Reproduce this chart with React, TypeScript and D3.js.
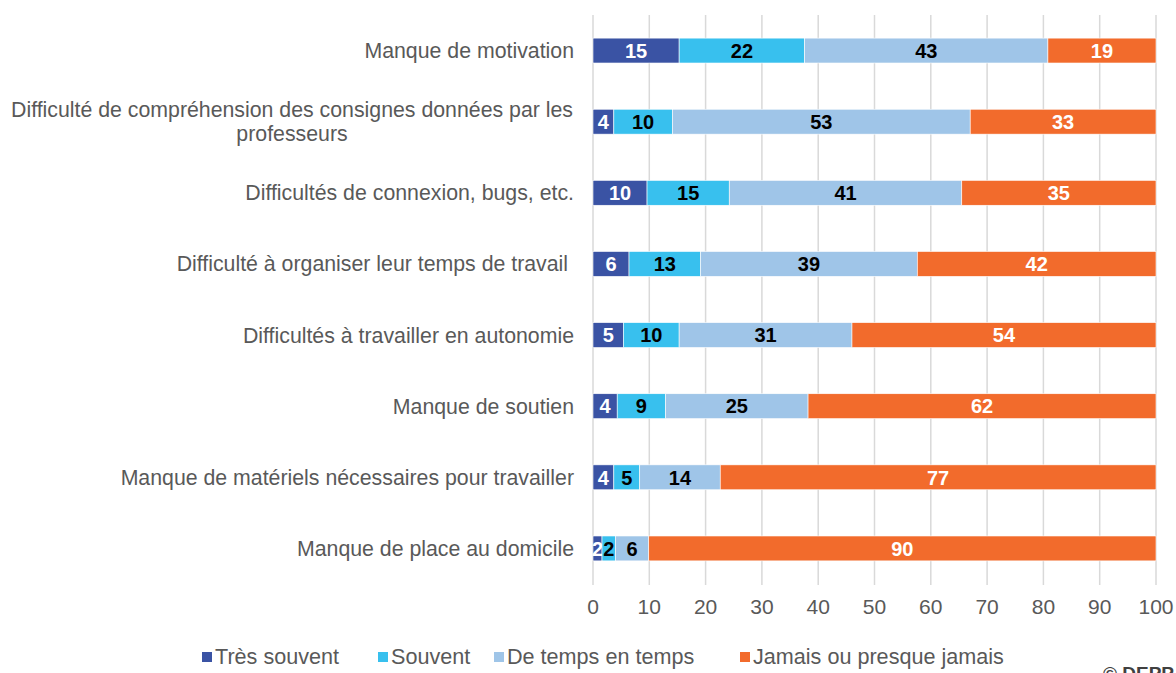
import React from "react";
import * as d3 from "d3";

const categories: string[][] = [
  ["Manque de motivation"],
  ["Difficulté de compréhension des consignes données par les", "professeurs"],
  ["Difficultés de connexion, bugs, etc."],
  ["Difficulté à organiser leur temps de travail "],
  ["Difficultés à travailler en autonomie"],
  ["Manque de soutien"],
  ["Manque de matériels nécessaires pour travailler"],
  ["Manque de place au domicile"],
];

const tresSouvent = [15.3, 3.7, 9.6, 6.4, 5.4, 4.3, 3.7, 1.6];
const souvent = [22.3, 10.4, 14.6, 12.7, 9.9, 8.6, 4.6, 2.4];
const deTempsEnTemps = [43.2, 52.9, 41.3, 38.5, 30.7, 25.3, 14.3, 5.9];
const jamais = [19.2, 33.0, 34.5, 42.4, 54.0, 61.8, 77.4, 90.1];

const seriesNames = ["Très souvent", "Souvent", "De temps en temps", "Jamais ou presque jamais"];
const seriesColors = ["#3A53A4", "#38C0EE", "#9FC5E8", "#F26B2C"];
const labelColors = ["#FFFFFF", "#000000", "#000000", "#FFFFFF"];
const xTicks = [0, 10, 20, 30, 40, 50, 60, 70, 80, 90, 100];
const legendX = [202, 378, 494, 740];

const W = 1176;
const H = 673;
const FONT = "'Liberation Sans', Arial, sans-serif";

export default function App() {
  const series = [tresSouvent, souvent, deTempsEnTemps, jamais];
  const keys = categories.map((_, i) => String(i));
  const x = d3.scaleLinear().domain([0, 100]).range([593, 1156]);
  const y = d3.scaleBand<string>().domain(keys).range([15, 584]).paddingInner(0.65).paddingOuter(0.325);

  const rows = categories.map((_, i) => {
    const obj: Record<string, number> = {};
    series.forEach((s, k) => (obj["s" + k] = s[i]));
    return obj;
  });
  const stack = d3.stack<Record<string, number>>().keys(series.map((_, k) => "s" + k));
  const stacked = stack(rows);

  return (
    <svg width={W} height={H} style={{ position: "absolute", left: 0, top: 0, background: "#fff" }} fontFamily={FONT}>
      {/* grid */}
      {xTicks.map((t) => (
        <line key={t} x1={x(t)} x2={x(t)} y1={15} y2={585} stroke="#D9D9D9" strokeWidth={1.5} />
      ))}
      {/* bars */}
      {stacked.map((layer, k) => (
        <g key={k}>
          {layer.map((d, i) => {
            const y0 = y(String(i))!;
            const bw = y.bandwidth();
            const x0 = x(d[0]);
            const x1 = x(d[1]);
            return (
              <g key={i}>
                <rect x={x0} y={y0} width={x1 - x0} height={bw} fill={seriesColors[k]} stroke="#FFFFFF" strokeWidth={0.6} />
                <text
                  x={(x0 + x1) / 2}
                  y={y0 + bw / 2}
                  dy="0.36em"
                  textAnchor="middle"
                  fontSize={20}
                  fontWeight="bold"
                  fill={labelColors[k]}
                >
                  {Math.round(series[k][i])}
                </text>
              </g>
            );
          })}
        </g>
      ))}
      {/* category labels */}
      {categories.map((lines, i) => {
        const cy = y(String(i))! + y.bandwidth() / 2;
        const lh = 24;
        const startY = cy - ((lines.length - 1) * lh) / 2;
        const multi = lines.length > 1;
        return (
          <text key={i} fontSize={21.3} fill="#595959" style={{ whiteSpace: "pre" }}>
            {lines.map((l, j) => (
              <tspan
                key={j}
                x={multi ? 292 : 574}
                y={startY + j * lh}
                dy="0.35em"
                textAnchor={multi ? "middle" : "end"}
              >
                {l}
              </tspan>
            ))}
          </text>
        );
      })}
      {/* x ticks */}
      {xTicks.map((t) => (
        <text key={t} x={x(t)} y={614} textAnchor="middle" fontSize={21} fill="#595959">
          {t}
        </text>
      ))}
      {/* legend */}
      {seriesNames.map((n, k) => (
        <g key={n}>
          <rect x={legendX[k]} y={652} width={10} height={10} fill={seriesColors[k]} />
          <text x={legendX[k] + 13} y={664} fontSize={21.6} fill="#595959">
            {n}
          </text>
        </g>
      ))}
      <text x={1103} y={680} fontSize={19} fontWeight="bold" fill="#404040">
        © DEPP
      </text>
    </svg>
  );
}
